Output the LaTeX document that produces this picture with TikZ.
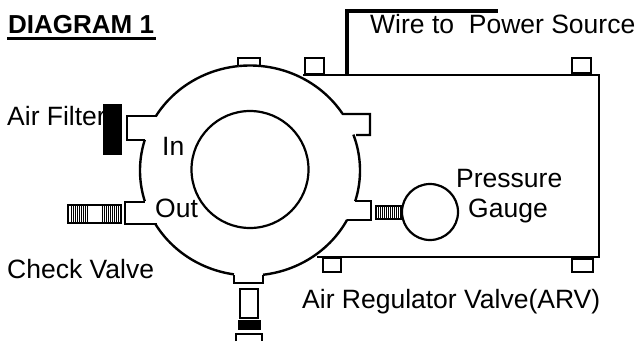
\documentclass[tikz,border=0pt]{standalone}
\usepackage{fontspec}
\setmainfont{Liberation Sans}
\newcommand{\arcpath}[2]{plot[smooth,domain=#1:#2,samples=30] ({250+110*cos(\x)},{170.5+105*sin(\x)})}
\tikzset{
  lbl/.style={anchor=base west,inner sep=0pt,font=\fontsize{26.5}{28}\selectfont},
  ttl/.style={anchor=base west,inner sep=0pt,font=\fontsize{26}{28}\selectfont\bfseries},
  part/.style={draw=black,line width=2.4pt,fill=white},
  ln/.style={draw=black,line width=2.4pt,line join=miter},
  hatch/.style={draw=black,line width=1pt}
}
\begin{document}
\begin{tikzpicture}[x=1pt,y=-1pt]
\useasboundingbox (0,0) rectangle (636,341);
\fill[white] (0,0) rectangle (636,341);
% labels
\node[ttl] (title) at (8,33) {DIAGRAM 1};
\fill[black] (7,37) rectangle (156,40);
\node[lbl] (wire) at (370,33) {Wire to\ \ Power Source};
\node[lbl] (filter) at (7,125) {Air Filter};
\node[lbl] (in) at (162,155) {In};
\node[lbl] (out) at (155,217) {Out};
\node[lbl] (check) at (7,278) {Check Valve};
\node[lbl] (press) at (456,187) {Pressure};
\node[lbl] (gauge) at (468,217) {Gauge};
\node[lbl] (arv) at (302,308) {Air Regulator Valve(ARV)};
% regulator housing
\draw[ln] (303,75) -- (599,75) -- (599,257) -- (317,257);
\draw[part] (305,58) rectangle (324,74);
\draw[part] (572,58) rectangle (591,74);
\draw[part] (323,258) rectangle (341,272);
\draw[part] (572,258) rectangle (593,272);
\fill[black] (572,72) rectangle (591,76);
\fill[black] (572,256) rectangle (593,260);
% wire
\draw[line width=4.5pt,line cap=butt] (347,75) -- (347,11) -- (498,11);
% valve body
\draw[ln] \arcpath{-96}{-84.8};
\draw[ln] (238,66) -- (238,58) -- (260,58) -- (260,66);
\draw[ln] \arcpath{-84.8}{-33};
\draw[ln] (342.0,113.5) -- (343,114) -- (370,114) -- (370,135) -- (356,135);
\draw[ln] \arcpath{-20}{17};
\draw[ln] (355,201) -- (371,201) -- (371,220) -- (347,220);
\draw[ln] \arcpath{28}{83.2};
\draw[ln] (263,275) -- (263,283) -- (234,283) -- (234,275);
\draw[ln] \arcpath{98.4}{149};
\draw[ln] (157,224) -- (125,224) -- (125,202) -- (145,202);
\draw[ln] \arcpath{163}{197};
\draw[ln] (145,140) -- (127,140) -- (127,116) -- (156,116);
\draw[ln] \arcpath{211}{264};
% inner circle
\draw[line width=2.2pt] (250,169.5) circle[radius=58.5];
% air filter
\fill[black] (103,104) rectangle (122,155);
% check valve
\draw[line width=2.5pt,fill=white] (68,205) rectangle (121,223);
\foreach \i in {71,73,...,87,102,104,...,118} \draw[hatch] (\i,206) -- (\i,222);
% gauge stem and gauge
\draw[line width=2pt,fill=white] (376,206) rectangle (402,219);
\foreach \i in {378,380,...,400} \draw[hatch] (\i,207) -- (\i,218);
\draw[line width=2.2pt,fill=white] (430,212) circle[radius=28];
% bottom valve
\draw[part] (240,289) rectangle (258,318);
\fill[black] (238,320) rectangle (261,330);
\draw[ln] (236,341) -- (236,334) -- (262,334) -- (262,341);
\end{tikzpicture}
\end{document}
